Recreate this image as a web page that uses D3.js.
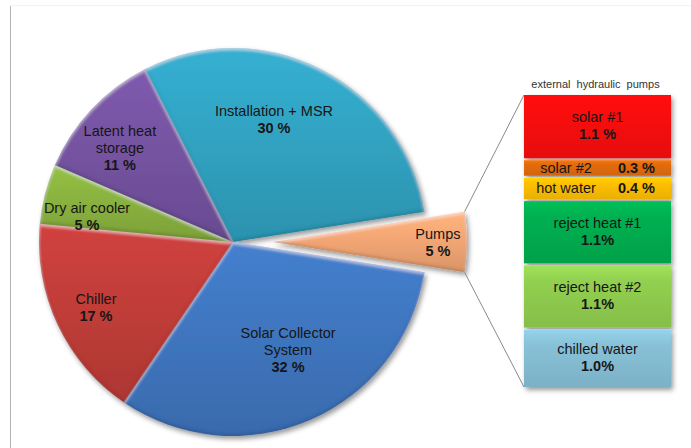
<!DOCTYPE html>
<html><head><meta charset="utf-8">
<script src="https://cdn.jsdelivr.net/npm/d3@7"></script>
<style>html,body{margin:0;padding:0;background:#fff}svg{display:block}</style>
</head><body>
<script>
// Cost shares of the system, listed clockwise from the top of the pie
const sliceNames  = ["Installation + MSR", "Pumps", "Solar Collector System", "Chiller", "Dry air cooler", "Latent heat storage"];
const sliceLines  = [["Installation + MSR"], ["Pumps"], ["Solar Collector", "System"], ["Chiller"], ["Dry air cooler"], ["Latent heat", "storage"]];
const sliceValues = [30, 5, 32, 17, 5, 11];
const sliceColors = ["#31a3c2", "#f3a674", "#3f76bf", "#c13d39", "#8ab23f", "#7553a1"];
const explodedName = "Pumps";

// Breakdown of the pump share (stacked column, top to bottom)
const pumpNames   = ["solar #1", "solar #2", "hot water", "reject heat #1", "reject heat #2", "chilled water"];
const pumpValues  = [1.1, 0.3, 0.4, 1.1, 1.1, 1.0];
const pumpPctSep  = [" ", " ", " ", "", "", ""];
const pumpColors  = ["#fb0a0a", "#e46c0a", "#ffc000", "#00b050", "#92d050", "#88c2d8"];
const pumpTitle   = "external hydraulic pumps";

const W = 691, H = 448;
const cx = 233, cy = 242, R = 194, explode = 40;
const bar = {x0: 524, x1: 671, y0: 95, y1: 387};
const font = "'Liberation Sans', Arial, sans-serif";
const ink = "#161616";

// label placement inside each slice: [radius factor, angle shift in degrees]
const labelPlace = {
  "Installation + MSR": [0.666, -8.5],
  "Pumps": [0.85, 0],
  "Solar Collector System": [0.625, -3.6],
  "Chiller": [0.784, -0.5],
  "Dry air cooler": [0.764, -4.5],
  "Latent heat storage": [0.759, -3.4]
};

const svg = d3.select("body").append("svg").attr("width", W).attr("height", H);
const defs = svg.append("defs");

// soft shadow used under the pie and the column
const sh = defs.append("filter").attr("id", "shadow")
  .attr("x", "-10%").attr("y", "-10%").attr("width", "130%").attr("height", "130%");
sh.append("feDropShadow").attr("dx", 2).attr("dy", 3).attr("stdDeviation", 2.5)
  .attr("flood-color", "#000").attr("flood-opacity", 0.4);

// soft bevel: light rim along upper edges, dark rim along lower edges
const bv = defs.append("filter").attr("id", "bevel")
  .attr("x", "-5%").attr("y", "-5%").attr("width", "110%").attr("height", "110%");
bv.append("feGaussianBlur").attr("in", "SourceAlpha").attr("stdDeviation", 1.6).attr("result", "blur");
bv.append("feOffset").attr("in", "blur").attr("dx", 0).attr("dy", 2.2).attr("result", "down");
bv.append("feOffset").attr("in", "blur").attr("dx", 0).attr("dy", -2.2).attr("result", "up");
bv.append("feComposite").attr("in", "SourceAlpha").attr("in2", "down").attr("operator", "out").attr("result", "topRim");
bv.append("feComposite").attr("in", "SourceAlpha").attr("in2", "up").attr("operator", "out").attr("result", "botRim");
bv.append("feFlood").attr("flood-color", "#fff").attr("flood-opacity", 0.45).attr("result", "white");
bv.append("feComposite").attr("in", "white").attr("in2", "topRim").attr("operator", "in").attr("result", "hl");
bv.append("feFlood").attr("flood-color", "#000").attr("flood-opacity", 0.28).attr("result", "black");
bv.append("feComposite").attr("in", "black").attr("in2", "botRim").attr("operator", "in").attr("result", "sd");
const bm = bv.append("feMerge");
bm.append("feMergeNode").attr("in", "SourceGraphic");
bm.append("feMergeNode").attr("in", "hl");
bm.append("feMergeNode").attr("in", "sd");

// frame lines
svg.append("line").attr("x1", 10.5).attr("x2", 10.5).attr("y1", 5).attr("y2", H)
  .attr("stroke", "#b4b4b4").attr("stroke-width", 1);
svg.append("line").attr("x1", 10).attr("x2", W).attr("y1", 5.5).attr("y2", 5.5)
  .attr("stroke", "#f3f3f3").attr("stroke-width", 1);

// ---- pie ----
const total = d3.sum(sliceValues);
const ei = sliceNames.indexOf(explodedName);
const before = d3.sum(sliceValues.slice(0, ei));
const start = Math.PI / 2 - 2 * Math.PI * (before + sliceValues[ei] / 2) / total;

const data = sliceNames.map((n, i) => ({name: n, lines: sliceLines[i], value: sliceValues[i], color: sliceColors[i]}));
const arcs = d3.pie().sort(null).value(d => d.value).startAngle(start).endAngle(start + 2 * Math.PI)(data);
const arc = d3.arc().innerRadius(0).outerRadius(R);

arcs.forEach((a, i) => {
  const c = d3.color(a.data.color);
  const g = defs.append("linearGradient").attr("id", "sg" + i)
    .attr("x1", 0).attr("y1", 0).attr("x2", 0).attr("y2", 1);
  g.append("stop").attr("offset", 0).attr("stop-color", c.brighter(0.22));
  g.append("stop").attr("offset", 0.45).attr("stop-color", c);
  g.append("stop").attr("offset", 1).attr("stop-color", c.darker(0.3));
});

const pieG = svg.append("g").attr("filter", "url(#shadow)");
const offsetOf = a => {
  const mid = (a.startAngle + a.endAngle) / 2;
  const off = a.data.name === explodedName ? explode : 0;
  return [cx + off * Math.sin(mid), cy - off * Math.cos(mid)];
};

const sliceG = pieG.selectAll("g.slice").data(arcs).join("g")
  .attr("class", "slice")
  .attr("transform", d => `translate(${offsetOf(d)})`);
sliceG.append("path")
  .attr("d", arc)
  .attr("fill", (d, i) => `url(#sg${i})`)
  .attr("filter", "url(#bevel)");

// slice labels
const lh = 17;
svg.selectAll("g.lab").data(arcs).join("g").attr("class", "lab")
  .attr("transform", d => `translate(${offsetOf(d)})`)
  .each(function (d) {
    const [f, shift] = labelPlace[d.data.name];
    const ang = (d.startAngle + d.endAngle) / 2 + shift * Math.PI / 180;
    const lx = f * R * Math.sin(ang), ly = -f * R * Math.cos(ang);
    const lines = d.data.lines.concat([d.data.value + " %"]);
    const k = lines.length;
    d3.select(this).selectAll("text").data(lines).join("text")
      .attr("x", lx)
      .attr("y", (t, j) => ly - (k - 1) * lh / 2 + 5 + j * lh)
      .attr("text-anchor", "middle")
      .attr("font-family", font)
      .attr("font-size", 14.5)
      .attr("font-weight", (t, j) => j === k - 1 ? "bold" : "normal")
      .attr("fill", ink)
      .text(t => t);
  });

// ---- connectors from the exploded slice to the column ----
const ex = arcs[ei];
const [ox, oy] = offsetOf(ex);
const pTop = [ox + R * Math.sin(ex.startAngle), oy - R * Math.cos(ex.startAngle)];
const pBot = [ox + R * Math.sin(ex.endAngle), oy - R * Math.cos(ex.endAngle)];
svg.append("line").attr("x1", pTop[0]).attr("y1", pTop[1]).attr("x2", bar.x0).attr("y2", bar.y0)
  .attr("stroke", "#8a8a8a").attr("stroke-width", 1);
svg.append("line").attr("x1", pBot[0]).attr("y1", pBot[1]).attr("x2", bar.x0).attr("y2", bar.y1)
  .attr("stroke", "#8a8a8a").attr("stroke-width", 1);

// ---- stacked column ----
const y = d3.scaleLinear().domain([0, d3.sum(pumpValues)]).range([bar.y0, bar.y1]);
const cum = d3.cumsum(pumpValues);
const segs = pumpNames.map((n, i) => {
  const c0 = i ? cum[i - 1] : 0, c1 = cum[i];
  const top = y(c0) + (i > 0 ? 1 : 0);
  const bot = y(c1) - (i < pumpNames.length - 1 ? 1 : 0);
  return {name: n, value: pumpValues[i], sep: pumpPctSep[i], color: pumpColors[i], top, h: bot - top, i};
});
segs.forEach(s => {
  const c = d3.color(s.color);
  const g = defs.append("linearGradient").attr("id", "bg" + s.i)
    .attr("x1", 0).attr("y1", 0).attr("x2", 0).attr("y2", 1);
  g.append("stop").attr("offset", 0).attr("stop-color", c.brighter(0.25));
  g.append("stop").attr("offset", 0.25).attr("stop-color", c);
  g.append("stop").attr("offset", 1).attr("stop-color", c.darker(0.25));
});

const barG = svg.append("g").attr("filter", "url(#shadow)");
barG.selectAll("rect").data(segs).join("rect")
  .attr("x", bar.x0).attr("width", bar.x1 - bar.x0)
  .attr("y", d => d.top).attr("height", d => d.h)
  .attr("fill", d => `url(#bg${d.i})`);

const bx = (bar.x0 + bar.x1) / 2;
segs.forEach(s => {
  const mid = s.top + s.h / 2;
  const pct = s.value.toFixed(1) + s.sep + "%";
  if (s.h > 30) {
    svg.append("text").attr("x", bx).attr("y", mid - lh / 2 + 4)
      .attr("text-anchor", "middle").attr("font-family", font).attr("font-size", 14.5)
      .attr("fill", ink).text(s.name);
    svg.append("text").attr("x", bx).attr("y", mid + lh / 2 + 4)
      .attr("text-anchor", "middle").attr("font-family", font).attr("font-size", 14.5)
      .attr("font-weight", "bold").attr("fill", ink).text(pct);
  } else {
    svg.append("text").attr("x", bar.x0 + 42).attr("y", mid + 5)
      .attr("text-anchor", "middle").attr("font-family", font).attr("font-size", 14.5)
      .attr("fill", ink).text(s.name);
    svg.append("text").attr("x", bar.x1 - 16).attr("y", mid + 5)
      .attr("text-anchor", "end").attr("font-family", font).attr("font-size", 14.5)
      .attr("font-weight", "bold").attr("fill", ink).text(pct);
  }
});

svg.append("text").attr("x", bx - 2).attr("y", 88)
  .attr("text-anchor", "middle").attr("font-family", font).attr("font-size", 11)
  .attr("word-spacing", 3).attr("fill", "#333").text(pumpTitle);
</script>
</body></html>
